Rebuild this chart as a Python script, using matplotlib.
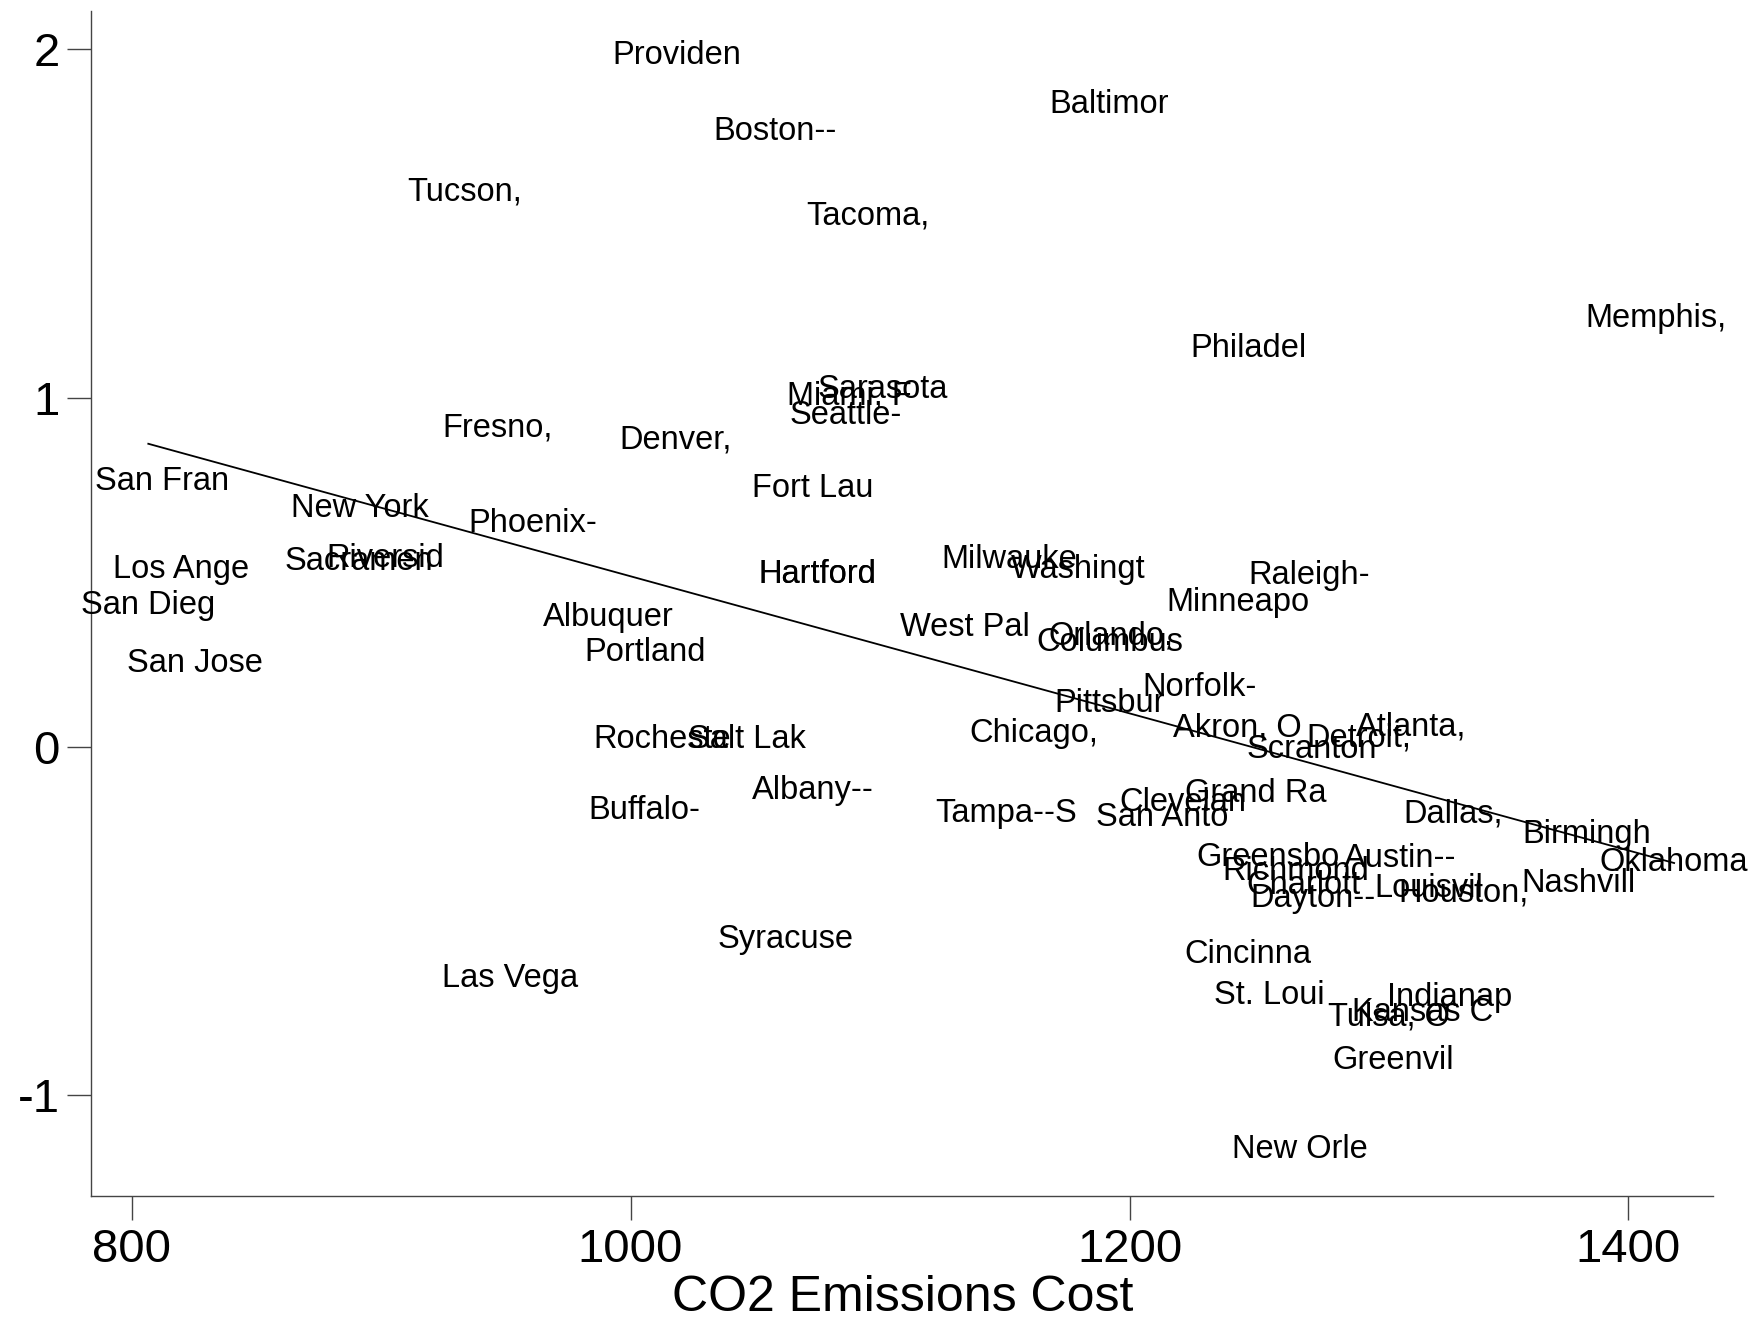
#Scatter of metro areas labelled by name, with a linear fit
import numpy as np
import matplotlib
matplotlib.use("Agg")
import matplotlib.pyplot as plt

plt.rcParams['font.family'] = ['Liberation Sans Narrow', 'Liberation Sans', 'DejaVu Sans']
plt.rcParams['axes.unicode_minus'] = False

cities = ['Providen', 'Baltimor', 'Boston--', 'Tucson,', 'Tacoma,', 'Memphis,', 'Philadel',
          'Sarasota', 'Miami, F', 'Seattle-', 'Fresno,', 'Denver,', 'Fort Lau', 'San Fran',
          'New York', 'Phoenix-', 'Los Ange', 'Sacramen', 'Riversid', 'Hartford', 'Hartford',
          'Milwauke', 'Washingt', 'Raleigh-', 'Minneapo', 'San Dieg', 'Albuquer', 'West Pal',
          'Orlando,', 'Columbus', 'Portland', 'San Jose', 'Norfolk-', 'Pittsbur', 'Atlanta,',
          'Akron, O', 'Chicago,', 'Detroit,', 'Rocheste', 'Salt Lak', 'Scranton', 'Albany--',
          'Grand Ra', 'Buffalo-', 'Clevelan', 'Tampa--S', 'San Anto', 'Dallas,', 'Birmingh',
          'Greensbo', 'Austin--', 'Oklahoma', 'Richmond', 'Charlott', 'Louisvil', 'Houston,',
          'Nashvill', 'Dayton--', 'Syracuse', 'Cincinna', 'Las Vega', 'St. Loui', 'Indianap',
          'Kansas C', 'Tulsa, O', 'Greenvil', 'New Orle']

co2 = [1018.4, 1191.8, 1057.8, 933.6, 1095.3, 1411.1, 1247.6,
       1101.1, 1087.7, 1086.3, 946.5, 1018.0, 1073.0, 812.1,
       891.6, 960.8, 819.7, 891.1, 901.9, 1074.7, 1075.0,
       1151.6, 1179.3, 1272.2, 1243.6, 806.7, 991.2, 1134.2,
       1192.7, 1192.2, 1005.9, 825.5, 1228.0, 1192.2, 1312.8,
       1243.2, 1161.8, 1291.8, 1012.6, 1046.6, 1273.1, 1073.0,
       1250.7, 1005.5, 1221.3, 1150.7, 1213.2, 1329.8, 1383.4,
       1255.7, 1308.4, 1418.3, 1266.8, 1269.9, 1320.0, 1333.8,
       1379.9, 1273.5, 1062.2, 1247.6, 951.9, 1256.1, 1328.5,
       1317.3, 1303.9, 1305.7, 1268.2]

score = [1.992, 1.852, 1.775, 1.602, 1.532, 1.238, 1.151,
         1.036, 1.017, 0.959, 0.924, 0.889, 0.752, 0.771,
         0.694, 0.649, 0.518, 0.540, 0.550, 0.505, 0.503,
         0.547, 0.518, 0.502, 0.425, 0.416, 0.381, 0.352,
         0.329, 0.310, 0.281, 0.249, 0.179, 0.134, 0.067,
         0.064, 0.048, 0.035, 0.032, 0.032, 0.003, -0.115,
         -0.125, -0.173, -0.150, -0.182, -0.192, -0.182, -0.243,
         -0.307, -0.310, -0.323, -0.349, -0.387, -0.397, -0.409,
         -0.381, -0.425, -0.544, -0.585, -0.656, -0.704, -0.710,
         -0.752, -0.764, -0.889, -1.145]

# linear fit
fit_intercept = 2.455
fit_slope = -0.001966

x = np.array(co2)
y = np.array(score)

fig = plt.figure(figsize=(17.48, 13.18), dpi=100)
ax = fig.add_axes([0.0523, 0.0924, 0.9277, 0.8992])

for name, xi, yi in zip(cities, x, y):
    ax.annotate(name, (xi, yi), xytext=(0, -2.5), textcoords='offset points',
                ha='center', va='center', fontsize=23.5, color='black')

xs = np.array([x.min(), x.max()])
ax.plot(xs, fit_intercept + fit_slope * xs, color='black', linewidth=1.3)

ax.set_xlim(783.9, 1433.9)
ax.set_ylim(-1.289, 2.11)
ax.set_xticks([800, 1000, 1200, 1400])
ax.set_yticks([-1, 0, 1, 2])
ax.tick_params(axis='both', labelsize=34, length=17, width=1, color='#444444', pad=6)
ax.set_xlabel("CO2 Emissions Cost", fontsize=36, labelpad=2)

for side in ['top', 'right']:
    ax.spines[side].set_visible(False)
for side in ['left', 'bottom']:
    ax.spines[side].set_color('#444444')
    ax.spines[side].set_linewidth(1)

fig.savefig("out.png", dpi=100)
